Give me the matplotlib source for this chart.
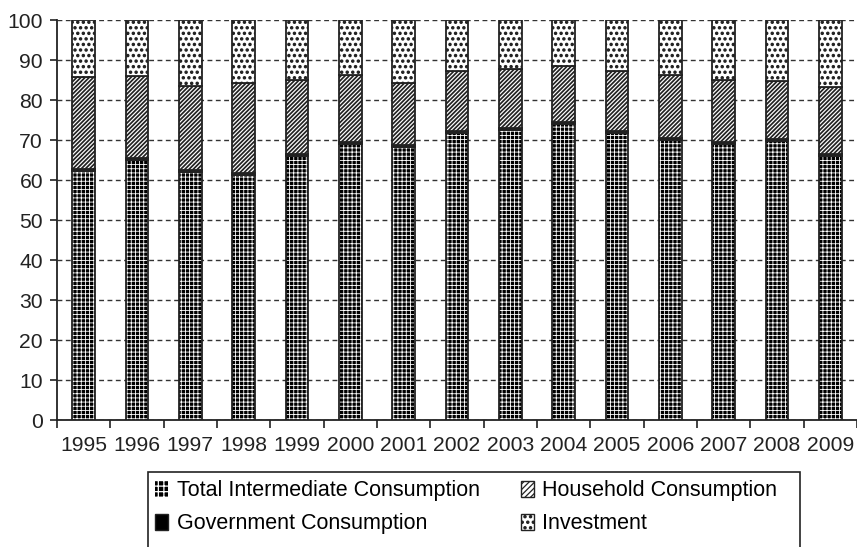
import matplotlib
matplotlib.use("Agg")
import matplotlib.pyplot as plt
import matplotlib.hatch as mhatch
import numpy as np
from matplotlib.patches import Patch, Rectangle

plt.rcParams['font.family'] = ['Liberation Sans', 'DejaVu Sans']
plt.rcParams['hatch.linewidth'] = 0.9
# slightly larger dots for the investment fill
mhatch.SmallFilledCircles.size = 0.2

years = ["1995", "1996", "1997", "1998", "1999", "2000", "2001", "2002",
         "2003", "2004", "2005", "2006", "2007", "2008", "2009"]
intermediate = [62.2, 64.9, 62.0, 61.3, 65.9, 69.1, 68.3, 71.8,
                72.5, 74.1, 71.8, 70.1, 69.1, 69.7, 65.9]
government = [0.5, 0.5, 0.5, 0.5, 0.5, 0.5, 0.5, 0.5,
              0.5, 0.5, 0.5, 0.5, 0.5, 0.5, 0.5]
household = [23.1, 20.6, 21.0, 22.5, 18.6, 16.7, 15.4, 15.0,
             14.7, 13.9, 14.9, 15.7, 15.4, 14.6, 16.9]
investment = [14.2, 14.0, 16.5, 15.7, 15.0, 13.7, 15.8, 12.7,
              12.3, 11.5, 12.8, 13.7, 15.0, 15.2, 16.7]
yticks = list(range(0, 101, 10))

W, H = 857, 547
fig = plt.figure(figsize=(W / 100, H / 100), dpi=100)
ax = fig.add_axes([57 / W, (H - 420) / H, 800 / W, 400 / H])

x = np.arange(len(years))
width = 0.42
edge = '#222222'

tic = np.array(intermediate)
gov = np.array(government)
hh = np.array(household)
inv = np.array(investment)


def hatch_lw(patches, lw):
    for p in patches:
        if hasattr(p, 'set_hatch_linewidth'):
            p.set_hatch_linewidth(lw)


# total intermediate consumption: black with thin white grid
bars_tic = ax.bar(x, tic, width, color='black', edgecolor='white',
                  hatch='++++', linewidth=0, zorder=3)
hatch_lw(bars_tic.patches, 0.6)
ax.bar(x, tic, width, fill=False, edgecolor=edge, linewidth=1.3, zorder=4)
# government consumption: solid black
ax.bar(x, gov, width, bottom=tic, color='black', edgecolor=edge,
       linewidth=1.3, zorder=3)
# household consumption: diagonal hatching
bars_hh = ax.bar(x, hh, width, bottom=tic + gov, color='white', edgecolor=edge,
                 hatch='////////', linewidth=1.3, zorder=3)
hatch_lw(bars_hh.patches, 1.25)
# investment: dotted
ax.bar(x, inv, width, bottom=tic + gov + hh, color='white', edgecolor=edge,
       hatch='...', linewidth=1.3, zorder=3)

ax.set_ylim(0, 100)
ax.set_xlim(-0.5, 14.425)
ax.set_yticks(yticks)
ax.set_yticklabels([str(v) for v in yticks], fontsize=15.2, color='#222222')

ax.set_xticks(x)
ax.set_xticklabels(years, fontsize=15.2, color='#222222')
ax.tick_params(axis='x', which='major', length=0, pad=11.5)
ax.set_xticks(np.arange(-0.5, len(years), 1.0), minor=True)
ax.tick_params(axis='x', which='minor', length=6, width=1.2, color='#222222')
ax.tick_params(axis='y', length=5, width=1.2, color='#222222', pad=5)

ax.yaxis.grid(True, linestyle=(0, (3.5, 2.5)), color='#333333',
              linewidth=1.0, zorder=0)
ax.set_axisbelow(True)

for side in ['top', 'right']:
    ax.spines[side].set_visible(False)
for side in ['left', 'bottom']:
    ax.spines[side].set_color('#222222')
    ax.spines[side].set_linewidth(1.3)

handles = [
    Patch(facecolor='black', edgecolor='white', hatch='+++', linewidth=0),
    Patch(facecolor='black', edgecolor=edge, linewidth=1.0),
    Patch(facecolor='white', edgecolor=edge, hatch='//////', linewidth=1.0),
    Patch(facecolor='white', edgecolor=edge, hatch='...', linewidth=1.0),
]
hatch_lw(handles[:1], 0.6)
hatch_lw(handles[2:3], 1.2)
labels = ["Total Intermediate Consumption", "Government Consumption",
          "Household Consumption", "Investment"]
leg = fig.legend(handles, labels, ncol=2, loc='upper left',
                 bbox_to_anchor=(149 / W, 1 - 474 / H),
                 fontsize=15.5, frameon=False,
                 handlelength=0.6, handleheight=0.75,
                 handletextpad=0.4, columnspacing=1.9, labelspacing=0.55,
                 borderpad=0.3, borderaxespad=0)

# legend border box
fig.patches.append(Rectangle((148 / W, -0.05), (800 - 148) / W,
                             (H - 472) / H + 0.05, transform=fig.transFigure,
                             fill=False, edgecolor='#222222', linewidth=1.2))

fig.savefig('out.png', dpi=100)
